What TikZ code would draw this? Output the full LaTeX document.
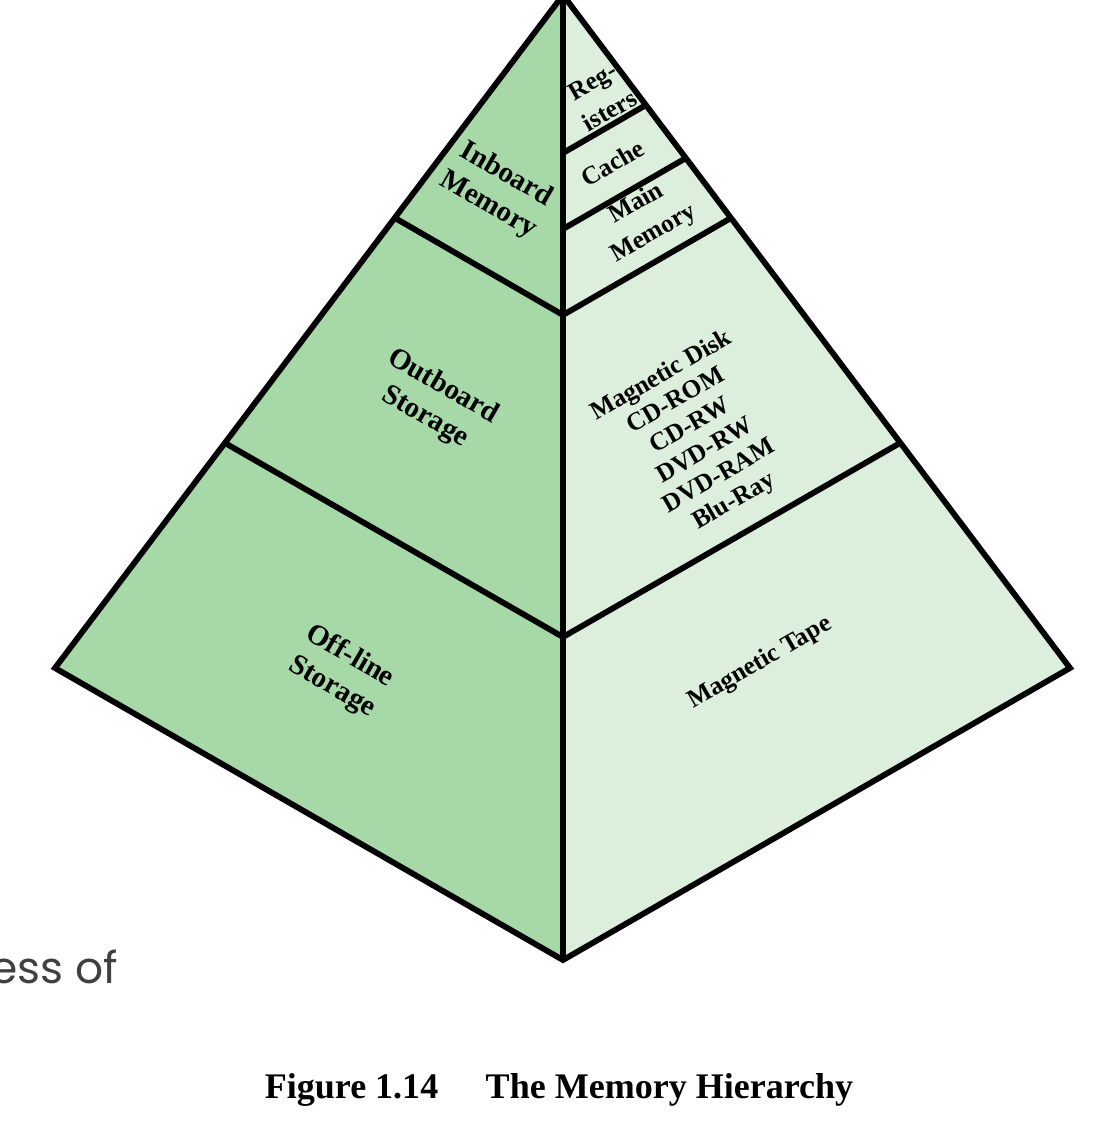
\documentclass[tikz,border=0pt]{standalone}
\usepackage{fontspec}
\setmainfont{Liberation Serif}
\newfontfamily\slidefont{Poppins}
\usepackage{xcolor}
\definecolor{memdark}{RGB}{166,216,168}
\definecolor{memlight}{RGB}{220,238,220}
\definecolor{slidegray}{RGB}{64,64,64}
\usetikzlibrary{calc}

\tikzset{
  edge/.style={black, line width=3.3pt},
  leftlabel/.style={font=\fontsize{16.5}{20}\selectfont\bfseries, align=center, rotate=-30},
  rightlabel/.style={font=\fontsize{14.5}{19.5}\selectfont\bfseries, align=center, rotate=30},
}

\begin{document}
\begin{tikzpicture}[x=0.02cm, y=-0.02cm]
  \useasboundingbox (0,0) rectangle (1114,1144);

  % Corners of the pyramid
  \coordinate (apex) at (563,-5);
  \coordinate (bottom) at (563,960);
  \coordinate (leftc) at (55,668);
  \coordinate (rightc) at (1070,668);

  % Faces
  \fill[memdark] (apex) -- (leftc) -- (bottom) -- cycle;
  \fill[memlight] (apex) -- (rightc) -- (bottom) -- cycle;

  % Left face levels
  \draw[edge] (395,218) -- (563,315);
  \draw[edge] (225,443) -- (563,637);
  % Right face levels
  \draw[edge] (563,153) -- (646,105);
  \draw[edge] (563,229) -- (686,158);
  \draw[edge] (563,315) -- (731,218);
  \draw[edge] (563,637) -- (900,443);

  % Outline and centre line
  \draw[edge] (apex) -- (leftc) -- (bottom) -- (rightc) -- cycle;
  \draw[edge] (apex) -- (bottom);

  % Left face labels
  \node[leftlabel] (inboard) at (497,190) {Inboard\\Memory};
  \node[leftlabel] (outboard) at (434,402) {Outboard\\Storage};
  \node[leftlabel] (offline) at (341,672) {Off-line\\Storage};

  % Right face labels
  \node[rightlabel] (registers) at (601,96) {Reg-\\isters};
  \node[rightlabel] (cache) at (613,163) {Cache};
  \node[rightlabel] (mainmem) at (645,219) {Main\\Memory};
  \node[rightlabel, font=\fontsize{14.5}{16.5}\selectfont\bfseries] (disks) at (698,439)
    {Magnetic Disk\\CD-ROM\\CD-RW\\DVD-RW\\DVD-RAM\\Blu-Ray};
  \node[rightlabel] (tape) at (760,663) {Magnetic Tape};

  % Slide text behind the figure
  \node[font=\slidefont\fontsize{25}{30}\selectfont, text=slidegray, anchor=base east, inner sep=0pt]
    (slidetext) at (118,983) {ess of};

  % Caption
  \node[font=\fontsize{20.5}{24}\selectfont\bfseries, anchor=base] (caption) at (559,1098)
    {Figure 1.14\hspace{27pt}The Memory Hierarchy};
\end{tikzpicture}
\end{document}
